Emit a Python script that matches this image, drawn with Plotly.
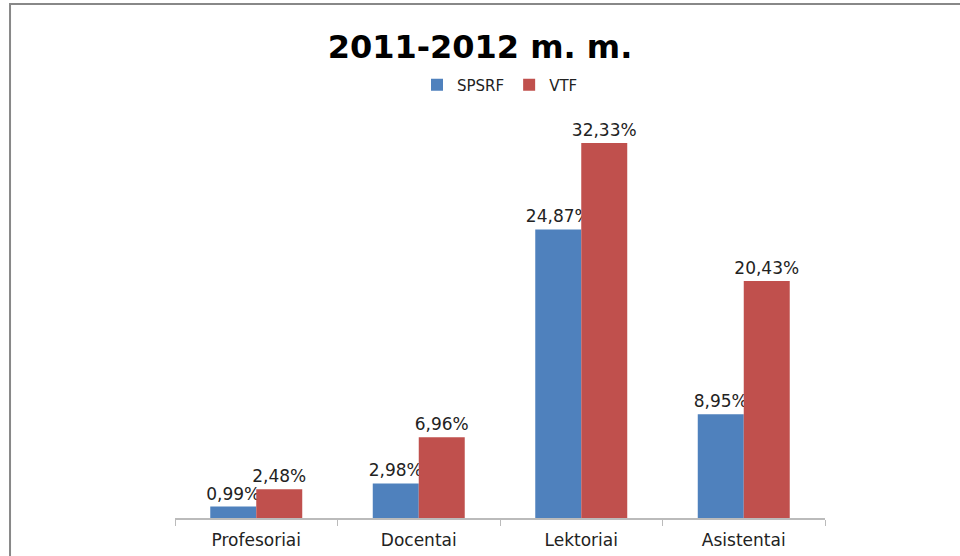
import plotly.graph_objects as go

categories = ['Profesoriai', 'Docentai', 'Lektoriai', 'Asistentai']
spsrf = [0.99, 2.98, 24.87, 8.95]
vtf = [2.48, 6.96, 32.33, 20.43]


def pct(values):
    return [f'{v:.2f}'.replace('.', ',') + '%' for v in values]


fig = go.Figure()

fig.add_trace(go.Bar(x=categories, y=spsrf, name='SPSRF', marker_color='#4F81BD',
                     text=pct(spsrf), textposition='outside', cliponaxis=False))
fig.add_trace(go.Bar(x=categories, y=vtf, name='VTF', marker_color='#C0504D',
                     text=pct(vtf), textposition='outside', cliponaxis=False))

fig.update_traces(textfont=dict(size=17, color='#222222', family='DejaVu Sans'),
                  constraintext='none', marker_line_width=0)

fig.update_layout(
    width=960, height=556,
    margin=dict(l=175, r=135, t=100, b=38),
    paper_bgcolor='white', plot_bgcolor='white',
    barmode='group', bargap=0.434, bargroupgap=0,
    title=dict(text='<b>2011-2012 m. m.</b>', x=0.5, xanchor='center',
               y=1 - 47 / 556, yanchor='middle',
               font=dict(size=32, color='black', family='DejaVu Sans')),
    legend=dict(orientation='h', x=0.5, xanchor='center', y=1.036, yanchor='middle',
                font=dict(size=15, color='#222222', family='DejaVu Sans'),
                itemwidth=30, traceorder='normal'),
    font=dict(family='DejaVu Sans'),
    xaxis=dict(showline=True, linecolor='#BBBBBB', linewidth=1.5,
               ticks='outside', tickson='boundaries', ticklen=6, tickcolor='#BBBBBB',
               ticklabelstandoff=6, automargin=False,
               tickfont=dict(size=17, color='#222222')),
    yaxis=dict(range=[0, 36.03], visible=False, showgrid=False),
    shapes=[dict(type='rect', xref='paper', yref='paper',
                 x0=-0.2538, x1=1.23, y0=-0.124, y1=1.2297,
                 line=dict(color='#888888', width=2))],
)

# drop the default page margin so the figure sits at the window corner
fig.write_html('out.html', config={'displayModeBar': False},
               post_script="document.body.style.margin='0';")
